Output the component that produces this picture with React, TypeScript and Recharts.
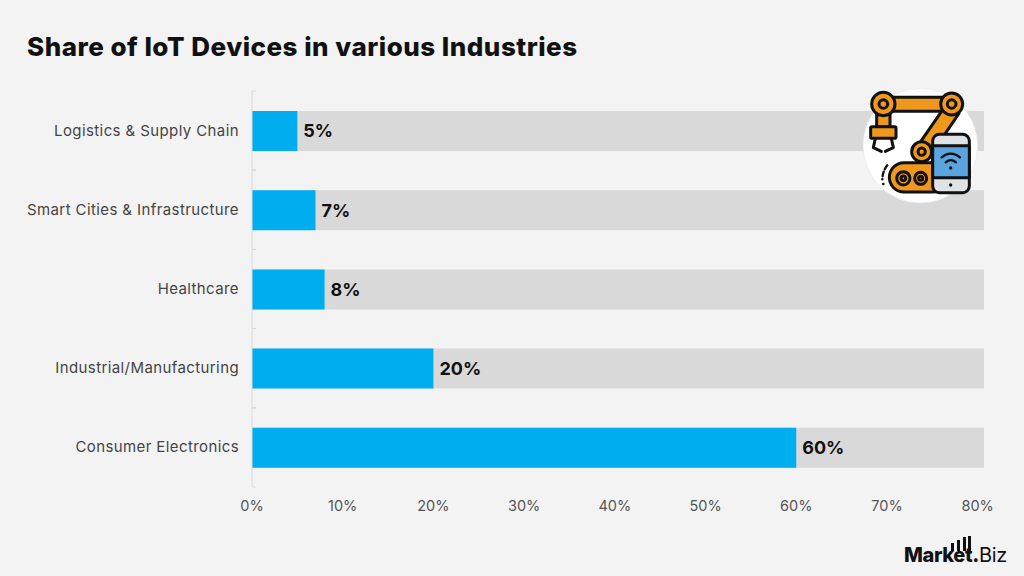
import { Bar, BarChart, LabelList, XAxis, YAxis } from 'recharts';

const industries = [
    'Logistics & Supply Chain',
    'Smart Cities & Infrastructure',
    'Healthcare',
    'Industrial/Manufacturing',
    'Consumer Electronics',
];
const shares = [5, 7, 8, 20, 60];
const percentTicks = [0, 10, 20, 30, 40, 50, 60, 70, 80];
const chartData = industries.map((name, i) => ({ name, share: shares[i] }));

const FONT = 'Inter, "Noto Sans", sans-serif';
const GRID = '#d9d9d9';
const ORANGE = '#f0981c';

// label plus the small marks on the band edges, recharts only ticks band centres
const IndustryTick = ({ y, payload }: any) => (
    <g>
        <line x1={252} x2={256} y1={y - 39.6} y2={y - 39.6} stroke={GRID} />
        <line x1={252} x2={256} y1={y + 39.6} y2={y + 39.6} stroke={GRID} />
        <text
            x={239}
            y={y}
            dy={5}
            textAnchor="end"
            fontSize={15}
            letterSpacing={0.4}
            fontFamily={FONT}
            fill="#444"
        >
            {payload.value}
        </text>
    </g>
);

const RobotIcon = () => (
    <svg
        viewBox="0 0 450 390"
        width={150}
        height={130}
        style={{ position: 'absolute', left: 850, top: 80 }}
    >
        <circle cx={211} cy={197} r={172} fill="#fff" stroke="#e6e6e6" strokeWidth={2} />
        <g stroke="#111" strokeWidth={9} strokeLinejoin="round" fill={ORANGE}>
            <path d="M76 175 L70 203 L94 214 M124 175 L130 203 L106 214" fill="none" strokeLinecap="round" />
            <rect x={80} y={103} width={40} height={37} />
            <rect x={62} y={140} width={76} height={35} rx={4} />
            <rect x={100} y={52} width={205} height={42} />
            <path d="M283 82 L327 100 L240 228 L198 205 Z" />
            <circle cx={100} cy={72} r={35} />
            <circle cx={305} cy={72} r={33} />
            <circle cx={215} cy={215} r={30} />
            <rect x={118} y={248} width={175} height={88} rx={44} />
            <circle cx={100} cy={72} r={13} />
            <circle cx={305} cy={72} r={13} />
            <circle cx={215} cy={215} r={11} />
            <circle cx={160} cy={295} r={20} />
            <circle cx={212} cy={295} r={18} />
            <circle cx={160} cy={295} r={7} />
            <circle cx={212} cy={295} r={6} />
            <rect x={248} y={163} width={110} height={175} rx={20} fill="#dfe3e6" />
            <rect x={248} y={197} width={110} height={96} fill="#5aa5e0" />
        </g>
        <g fill="#111">
            <circle cx={302} cy={315} r={5} />
            <circle cx={302} cy={264} r={5} />
            <circle cx={100} cy={312} r={4} />
        </g>
        <g fill="none" stroke="#111" strokeWidth={7} strokeLinecap="round">
            <path d="M275 232 Q302 210 330 232" />
            <path d="M287 247 Q302 234 318 247" />
            <path d="M112 256 Q98 272 97 298" strokeDasharray="14 8" />
        </g>
    </svg>
);

const BrandMark = () => (
    <div style={{ position: 'absolute', left: 904, top: 536, width: 104, height: 32 }}>
        <svg width={104} height={32} style={{ position: 'absolute', left: 0, top: 0 }}>
            <g fill="#111">
                <rect x={47} y={7} width={3} height={8} />
                <rect x={53} y={4} width={3} height={11} />
                <rect x={59} y={1} width={3} height={14} />
                <rect x={64} y={0} width={3} height={15} />
            </g>
        </svg>
        <div
            style={{
                position: 'absolute',
                left: 0,
                top: 6,
                fontFamily: FONT,
                fontSize: 20,
                lineHeight: '26px',
                letterSpacing: -0.35,
                color: '#111',
                whiteSpace: 'nowrap',
            }}
        >
            <span style={{ fontWeight: 800 }}>Market.</span>
            <span style={{ fontWeight: 400 }}>Biz</span>
        </div>
    </div>
);

export default function App() {
    return (
        <div
            style={{
                position: 'fixed',
                left: 0,
                top: 0,
                width: 1024,
                height: 576,
                background: '#f3f3f3',
                overflow: 'hidden',
            }}
        >
            <div
                style={{
                    position: 'absolute',
                    left: 27,
                    top: 30,
                    fontFamily: FONT,
                    fontWeight: 800,
                    fontSize: 26,
                    lineHeight: '34px',
                    letterSpacing: 0.5,
                    color: '#111',
                    whiteSpace: 'nowrap',
                }}
            >
                Share of IoT Devices in various Industries
            </div>
            <BarChart
                width={1024}
                height={576}
                data={chartData}
                layout="vertical"
                barSize={40}
                margin={{ top: 91, right: 40, bottom: 59, left: 0 }}
            >
                <XAxis
                    type="number"
                    domain={[0, 80.7]}
                    ticks={percentTicks}
                    tickFormatter={(v) => `${v}%`}
                    axisLine={false}
                    tickLine={false}
                    tickMargin={8}
                    height={30}
                    tick={{ fontSize: 14.5, fontFamily: FONT, fill: '#555' }}
                />
                <YAxis
                    type="category"
                    dataKey="name"
                    width={252}
                    tickLine={false}
                    axisLine={{ stroke: GRID }}
                    tick={<IndustryTick />}
                    interval={0}
                />
                <Bar
                    dataKey="share"
                    fill="#00aeef"
                    background={{ fill: '#d9d9d9' }}
                    isAnimationActive={false}
                >
                    <LabelList
                        dataKey="share"
                        position="right"
                        offset={6}
                        formatter={(v: any) => `${v}%`}
                        style={{ fontSize: 18, fontWeight: 700, fontFamily: FONT, fill: '#111' }}
                    />
                </Bar>
            </BarChart>
            <RobotIcon />
            <BrandMark />
        </div>
    );
}
